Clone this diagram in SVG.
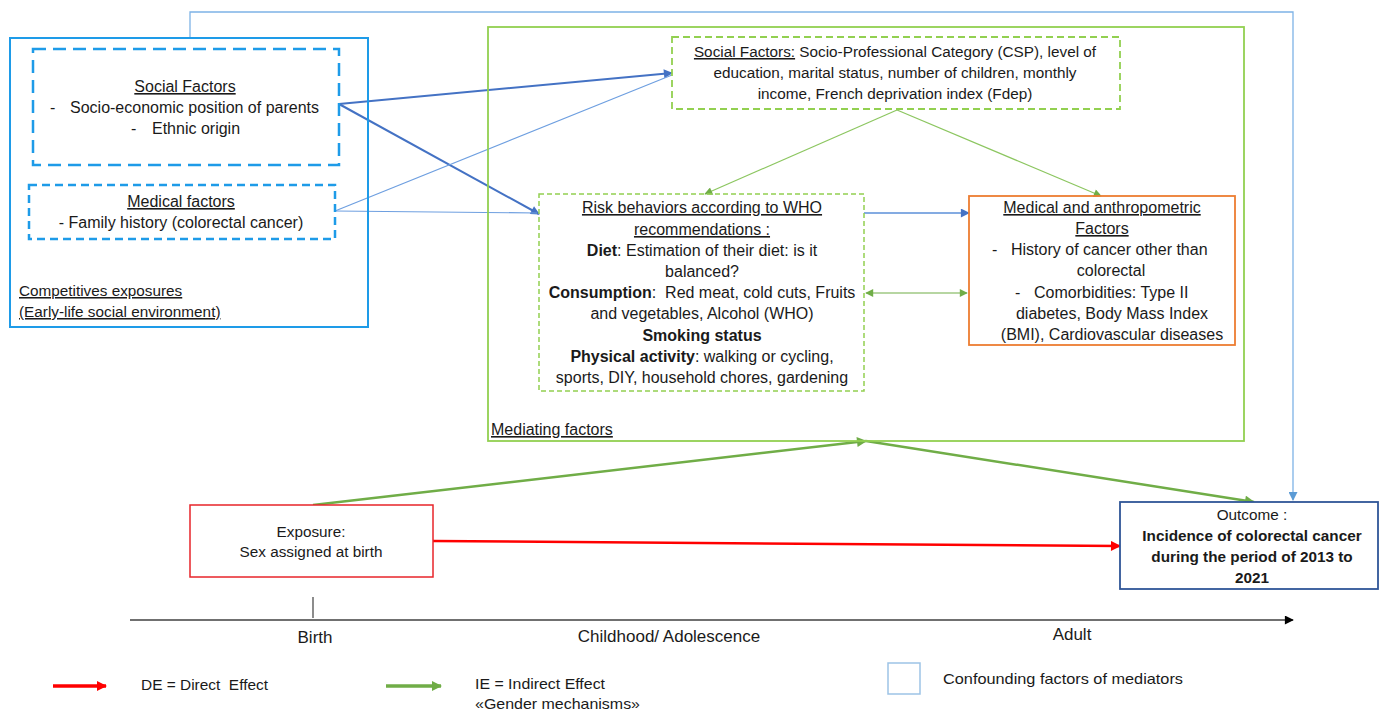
<svg xmlns="http://www.w3.org/2000/svg" width="1379" height="712" viewBox="0 0 1379 712">
<style>
text{font-family:"Liberation Sans",Arial,sans-serif;font-size:16px;fill:#1a1a1a}
.c{text-anchor:middle}
.u{text-decoration:underline}
.b{font-weight:bold}
.t15{font-size:15.3px}
.t17{font-size:17px}
.lg{font-size:14.5px}
</style>
<defs>
<marker id="aBlue" viewBox="0 0 10 10" refX="9" refY="5" markerWidth="11" markerHeight="9" markerUnits="userSpaceOnUse" orient="auto"><path d="M0,0L10,5L0,10z" fill="#4472C4"/></marker>
<marker id="aLBlue" viewBox="0 0 10 10" refX="9" refY="5" markerWidth="10" markerHeight="9" markerUnits="userSpaceOnUse" orient="auto"><path d="M0,0L10,5L0,10z" fill="#5B9BD5"/></marker>
<marker id="aGreen" viewBox="0 0 10 10" refX="9" refY="5" markerWidth="10" markerHeight="8" markerUnits="userSpaceOnUse" orient="auto"><path d="M0,0L10,5L0,10z" fill="#70AD47"/></marker>
<marker id="aGreenS" viewBox="0 0 10 10" refX="1" refY="5" markerWidth="10" markerHeight="8" markerUnits="userSpaceOnUse" orient="auto"><path d="M10,0L0,5L10,10z" fill="#70AD47"/></marker>
<marker id="aGreenB" viewBox="0 0 10 10" refX="9" refY="5" markerWidth="12" markerHeight="10" markerUnits="userSpaceOnUse" orient="auto"><path d="M0,0L10,5L0,10z" fill="#70AD47"/></marker>
<marker id="aRed" viewBox="0 0 10 10" refX="9" refY="5" markerWidth="12" markerHeight="10" markerUnits="userSpaceOnUse" orient="auto"><path d="M0,0L10,5L0,10z" fill="#FF0000"/></marker>
<marker id="aBlack" viewBox="0 0 10 10" refX="9" refY="5" markerWidth="12" markerHeight="9" markerUnits="userSpaceOnUse" orient="auto"><path d="M0,0L10,5L0,10z" fill="#000"/></marker>
</defs>
<rect width="1379" height="712" fill="#fff"/>

<g id="connectors" fill="none">
<polyline points="190,38 190,12 1293,12 1293,500" stroke="#7EB3E6" stroke-width="1.3" marker-end="url(#aLBlue)"/>
<line x1="339" y1="104" x2="672" y2="73" stroke="#4472C4" stroke-width="2" marker-end="url(#aBlue)"/>
<line x1="339" y1="104" x2="539" y2="214" stroke="#4472C4" stroke-width="2" marker-end="url(#aBlue)"/>
<line x1="335" y1="211" x2="672" y2="75" stroke="#6E9FE0" stroke-width="1.2"/>
<line x1="335" y1="211" x2="537" y2="213" stroke="#6E9FE0" stroke-width="1.2"/>
<line x1="864" y1="213" x2="969" y2="213" stroke="#5B8FD9" stroke-width="1.5" marker-end="url(#aBlue)"/>
<line x1="866" y1="293" x2="967" y2="293" stroke="#70AD47" stroke-width="1.2" marker-start="url(#aGreenS)" marker-end="url(#aGreen)"/>
<line x1="897" y1="110" x2="705" y2="194" stroke="#8CC660" stroke-width="1.2" marker-end="url(#aGreen)"/>
<line x1="897" y1="110" x2="1101" y2="196" stroke="#8CC660" stroke-width="1.2" marker-end="url(#aGreen)"/>
<line x1="313" y1="505" x2="866" y2="441" stroke="#70AD47" stroke-width="2.5" marker-end="url(#aGreenB)"/>
<line x1="866" y1="441" x2="1254" y2="502" stroke="#70AD47" stroke-width="2.5" marker-end="url(#aGreenB)"/>
<line x1="433" y1="541" x2="1120" y2="546" stroke="#FF0000" stroke-width="2.5" marker-end="url(#aRed)"/>
</g>

<g id="competitive-exposures">
<rect x="10" y="38" width="358" height="289" fill="none" stroke="#1E9BE8" stroke-width="2"/>
<text x="19" y="296" class="u t15">Competitives exposures</text>
<text x="19" y="317" class="u t15">(Early-life social environment)</text>
</g>

<g id="social-factors-early">
<rect x="33" y="49" width="306" height="116" fill="none" stroke="#1E9BE8" stroke-width="2.5" stroke-dasharray="13,7"/>
<text x="185" y="92" class="c u">Social Factors</text>
<text x="50" y="113">-</text>
<text x="70" y="113">Socio-economic position of parents</text>
<text x="131" y="134">-</text>
<text x="152" y="134">Ethnic origin</text>
</g>

<g id="medical-factors-early">
<rect x="29" y="185" width="306" height="54" fill="none" stroke="#1E9BE8" stroke-width="2.5" stroke-dasharray="8,5"/>
<text x="181" y="207" class="c u">Medical factors</text>
<text x="181" y="228" class="c">- Family history (colorectal cancer)</text>
</g>

<g id="mediating-factors">
<rect x="488" y="27" width="756" height="414" fill="none" stroke="#92D050" stroke-width="1.8"/>
<text x="491" y="435" class="u">Mediating factors</text>
</g>

<g id="social-factors-adult">
<rect x="672" y="37" width="448" height="72" fill="none" stroke="#92D050" stroke-width="1.8" stroke-dasharray="7,4"/>
<text x="895" y="57" class="c t15"><tspan class="u">Social Factors:</tspan> Socio-Professional Category (CSP), level of</text>
<text x="895" y="78" class="c t15">education, marital status, number of children, monthly</text>
<text x="895" y="99" class="c t15">income, French deprivation index (Fdep)</text>
</g>

<g id="risk-behaviors">
<rect x="539" y="194" width="325" height="197" fill="none" stroke="#92D050" stroke-width="1.5" stroke-dasharray="5,3"/>
<text x="702" y="213" class="c u">Risk behaviors according to WHO</text>
<text x="702" y="235" class="c u">recommendations :</text>
<text x="702" y="256" class="c"><tspan class="b">Diet</tspan>: Estimation of their diet: is it</text>
<text x="702" y="277" class="c">balanced?</text>
<text x="702" y="298" class="c" xml:space="preserve"><tspan class="b">Consumption</tspan>:  Red meat, cold cuts, Fruits</text>
<text x="702" y="319" class="c">and vegetables, Alcohol (WHO)</text>
<text x="702" y="341" class="c b">Smoking status</text>
<text x="702" y="362" class="c"><tspan class="b">Physical activity</tspan>: walking or cycling,</text>
<text x="702" y="383" class="c">sports, DIY, household chores, gardening</text>
</g>

<g id="medical-anthropometric">
<rect x="969" y="196" width="266" height="149" fill="none" stroke="#ED7D31" stroke-width="1.8"/>
<text x="1102" y="213" class="c u">Medical and anthropometric</text>
<text x="1102" y="234" class="c u">Factors</text>
<text x="992" y="255">-</text>
<text x="1011" y="255">History of cancer other than</text>
<text x="1111" y="276" class="c">colorectal</text>
<text x="1015" y="298">-</text>
<text x="1034" y="298">Comorbidities: Type II</text>
<text x="1112" y="319" class="c">diabetes, Body Mass Index</text>
<text x="1112" y="340" class="c">(BMI), Cardiovascular diseases</text>
</g>

<g id="exposure">
<rect x="190" y="505" width="243" height="72" fill="#fff" stroke="#E8242A" stroke-width="1.5"/>
<text x="311" y="537" class="c t15">Exposure:</text>
<text x="311" y="557" class="c t15">Sex assigned at birth</text>
</g>

<g id="outcome">
<rect x="1120" y="502" width="258" height="87" fill="#fff" stroke="#2F5597" stroke-width="1.8"/>
<text x="1252" y="520" class="c t15">Outcome :</text>
<text x="1252" y="541" class="c b t15">Incidence of colorectal cancer</text>
<text x="1252" y="562" class="c b t15">during the period of 2013 to</text>
<text x="1252" y="583" class="c b t15">2021</text>
</g>

<g id="timeline">
<line x1="130" y1="620" x2="1293" y2="620" stroke="#404040" stroke-width="1.3" marker-end="url(#aBlack)"/>
<line x1="313" y1="597" x2="313" y2="618" stroke="#404040" stroke-width="1.2"/>
<text x="315" y="643" class="c t17">Birth</text>
<text x="669" y="642" class="c t17">Childhood/ Adolescence</text>
<text x="1072" y="640" class="c t17">Adult</text>
</g>

<g id="legend">
<line x1="53" y1="686" x2="106" y2="686" stroke="#FF0000" stroke-width="3.5" marker-end="url(#aRed)"/>
<text x="141" y="690" class="lg" xml:space="preserve" textLength="127" lengthAdjust="spacingAndGlyphs">DE = Direct  Effect</text>
<line x1="386" y1="686" x2="441" y2="686" stroke="#70AD47" stroke-width="3.5" marker-end="url(#aGreenB)"/>
<text x="475" y="689" class="lg" textLength="130" lengthAdjust="spacingAndGlyphs">IE = Indirect Effect</text>
<text x="475" y="709" class="lg" textLength="165" lengthAdjust="spacingAndGlyphs">«Gender mechanisms»</text>
<rect x="888" y="663" width="32" height="31" fill="none" stroke="#9DC3E6" stroke-width="1.5"/>
<text x="943" y="684" class="lg" textLength="240" lengthAdjust="spacingAndGlyphs">Confounding factors of mediators</text>
</g>
</svg>
